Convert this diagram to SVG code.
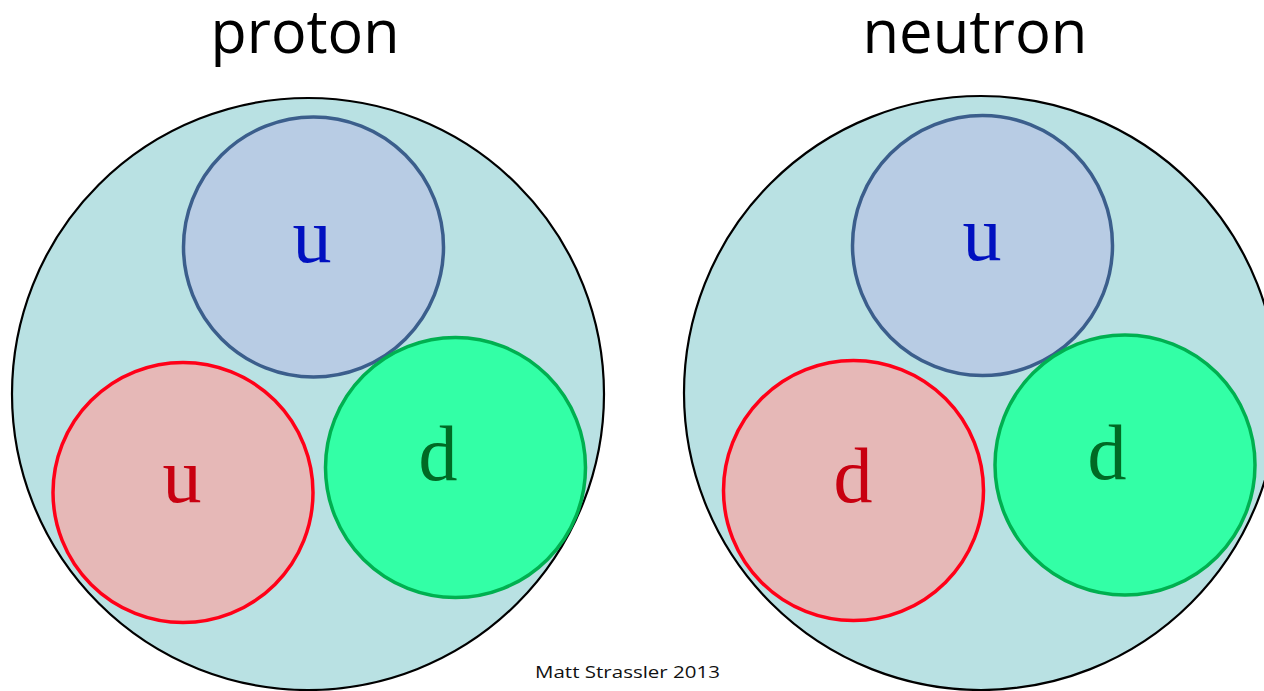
<svg xmlns="http://www.w3.org/2000/svg" width="1264" height="691" viewBox="0 0 1264 691">
<style>
.title{font-family:"Open Sans","Liberation Sans",sans-serif;font-size:60px;fill:#000;text-anchor:middle}
.hadron{fill:#b9e1e3;stroke:#000;stroke-width:2.2}
.qb{fill:#b8cce4;stroke:#3b5e8c;stroke-width:3.5}
.qr{fill:#e6b8b7;stroke:#ff0018;stroke-width:3.5}
.qg{fill:#33ffa6;stroke:#00b050;stroke-width:3.5}
.lbl{font-family:"Liberation Serif","DejaVu Serif",serif;font-size:78px;text-anchor:middle}
.lb{fill:#0010c0}
.lr{fill:#c80010}
.lg{fill:#006a24}
.credit{font-family:"Open Sans","Liberation Sans",sans-serif;font-size:17px;fill:#111}
</style>
<rect width="1264" height="691" fill="#fff"/>
<g id="proton">
<text class="title" x="305" y="53" textLength="189" lengthAdjust="spacingAndGlyphs">proton</text>
<circle class="hadron" cx="308" cy="394" r="296"/>
<g id="proton-u-blue"><circle class="qb" cx="313.5" cy="247" r="130"/><text class="lbl lb" x="312" y="262">u</text></g>
<g id="proton-u-red"><circle class="qr" cx="183" cy="492.5" r="130"/><text class="lbl lr" x="182" y="502">u</text></g>
<g id="proton-d-green"><circle class="qg" cx="455.5" cy="467.5" r="130"/><text class="lbl lg" x="438" y="480">d</text></g>
</g>
<g id="neutron">
<text class="title" x="975" y="53" textLength="225" lengthAdjust="spacingAndGlyphs">neutron</text>
<circle class="hadron" cx="981" cy="393" r="297"/>
<g id="neutron-u-blue"><circle class="qb" cx="982.5" cy="245.5" r="130"/><text class="lbl lb" x="982" y="260">u</text></g>
<g id="neutron-d-red"><circle class="qr" cx="853.5" cy="490.5" r="130"/><text class="lbl lr" x="853" y="502">d</text></g>
<g id="neutron-d-green"><circle class="qg" cx="1125" cy="465" r="130"/><text class="lbl lg" x="1107" y="479">d</text></g>
</g>
<g id="connectors"/>
<text class="credit" x="535" y="678" textLength="185" lengthAdjust="spacingAndGlyphs">Matt Strassler 2013</text>
</svg>
